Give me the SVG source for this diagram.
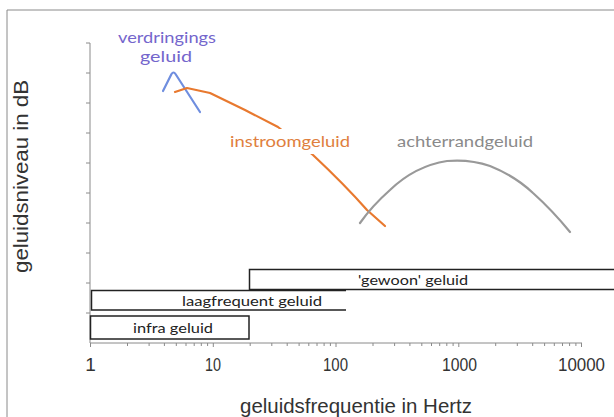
<svg xmlns="http://www.w3.org/2000/svg" width="614" height="417" viewBox="0 0 614 417">
<style>
.ax{stroke:#8a8a8a;stroke-width:1;fill:none}
.tick{stroke:#8a8a8a;stroke-width:1}
.num{font-family:"Liberation Sans",Arial,sans-serif;font-size:19px;fill:#333;text-anchor:middle}
.title{font-family:"Liberation Sans",Arial,sans-serif;font-size:21px;fill:#333}
.lbl{font-family:Lato,"Open Sans",sans-serif;font-size:16px}
.box{fill:#fff;stroke:#222;stroke-width:1.5}
.boxt{font-family:Lato,"Open Sans",sans-serif;font-size:14px;fill:#222}
.curve{fill:none;stroke-width:2.2;stroke-linecap:round;stroke-linejoin:round}
</style>
<rect width="614" height="417" fill="#fff"/>
<g id="frame">
<path d="M7 417 V10 H614" class="ax" stroke="#999"/>
</g>
<g id="axes">
<path class="ax" d="M90 43 V343 H582"/>
<g class="tick">
<path d="M86 43H90M86 73H90M86 103H90M86 133H90M86 163H90M86 193H90M86 223H90M86 253H90M86 283H90M86 313H90"/>
<path d="M90.5 343v4M127.5 343v3M149.1 343v3M164.4 343v3M176.3 343v3M186 343v3M194.2 343v3M201.3 343v3M207.6 343v3M213.3 343v4M250.2 343v3M271.8 343v3M287.2 343v3M299.1 343v3M308.8 343v3M317 343v3M324.1 343v3M330.4 343v3M336 343v4M373 343v3M394.6 343v3M409.9 343v3M421.8 343v3M431.5 343v3M439.7 343v3M446.8 343v3M453.1 343v3M458.8 343v4M495.7 343v3M517.3 343v3M532.7 343v3M544.6 343v3M554.3 343v3M562.5 343v3M569.6 343v3M575.9 343v3M581.5 343v4"/>
</g>
<text class="num" x="90.5" y="371">1</text>
<text class="num" x="213" y="371" textLength="16" lengthAdjust="spacingAndGlyphs">10</text>
<text class="num" x="335.5" y="371" textLength="25" lengthAdjust="spacingAndGlyphs">100</text>
<text class="num" x="459.5" y="371" textLength="35" lengthAdjust="spacingAndGlyphs">1000</text>
<text class="num" x="581.5" y="371" textLength="47" lengthAdjust="spacingAndGlyphs">10000</text>
<text class="title" x="240" y="413" textLength="232" lengthAdjust="spacingAndGlyphs">geluidsfrequentie  in Hertz</text>
<text class="title" transform="translate(28,273) rotate(-90)" x="0" y="0" textLength="193" lengthAdjust="spacingAndGlyphs">geluidsniveau in dB</text>
</g>
<g id="connectors">
<path id="verdringing-curve" class="curve" stroke="#6f8edf" d="M163 91 L171.5 74 Q173.5 71 175.5 74 L200 112"/>
<path id="instroom-curve" class="curve" stroke="#e8792f" d="M175 92 L187 88 L210 93 L245 110 L278 127 L313 155 Q345 185 367 210 L385 226"/>
<path id="achterrand-curve" class="curve" stroke="#999999" d="M360 223 Q372 206 390 190 Q415 166 447 161 Q470 159 490 166 Q515 176 533 193 Q552 210 570 232"/>
</g>
<g id="verdringings-label">
<text class="lbl" fill="#7466cc" x="167" y="43" text-anchor="middle" textLength="98" lengthAdjust="spacingAndGlyphs">verdringings</text>
<text class="lbl" fill="#7466cc" x="166" y="62" text-anchor="middle" textLength="52" lengthAdjust="spacingAndGlyphs">geluid</text>
</g>
<g id="instroom-label">
<rect x="226" y="129" width="128" height="25" fill="#fff"/>
<text class="lbl" fill="#e0803e" x="230" y="147" textLength="120" lengthAdjust="spacingAndGlyphs">instroomgeluid</text>
</g>
<g id="achterrand-label">
<text class="lbl" fill="#8a8a8a" x="397" y="147" textLength="136" lengthAdjust="spacingAndGlyphs">achterrandgeluid</text>
</g>
<g id="gewoon">
<path class="box" d="M620 269.5 H249.5 V289.5 H620"/>
<text class="boxt" x="358" y="285" textLength="110" lengthAdjust="spacingAndGlyphs">'gewoon' geluid</text>
</g>
<g id="laagfrequent">
<path class="box" fill="none" d="M346 290.5 H91.5 V310 H346"/>
<text class="boxt" x="182" y="306" textLength="140" lengthAdjust="spacingAndGlyphs">laagfrequent geluid</text>
</g>
<g id="infra">
<rect class="box" x="90.5" y="316" width="158.5" height="23"/>
<text class="boxt" x="133" y="333" textLength="80" lengthAdjust="spacingAndGlyphs">infra geluid</text>
</g>
</svg>
